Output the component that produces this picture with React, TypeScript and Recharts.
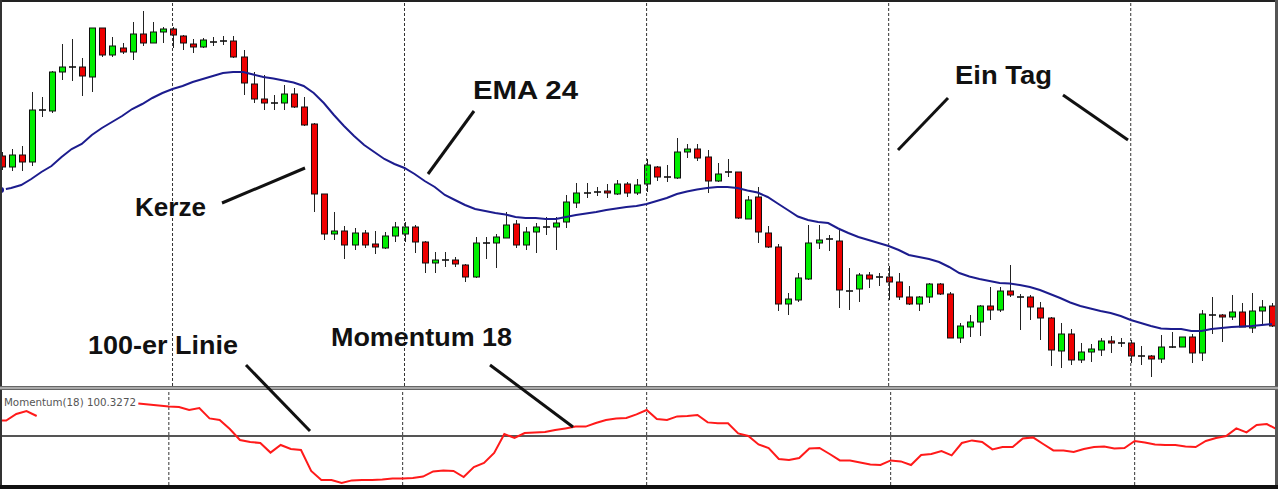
import { Bar, ComposedChart, Line, LineChart, ReferenceLine, XAxis, YAxis } from "recharts"

// hourly candles, price in points
const opens = [
  244, 233, 245, 238, 290, 289, 328, 333, 333, 323,
  372, 345, 352, 348, 366, 357, 368, 371, 364, 356,
  353, 358, 359, 359, 343, 316, 301, 297, 297, 306,
  293, 276, 206, 166, 169, 155, 167, 156, 152, 164,
  166, 173, 158, 137, 140, 140, 135, 123, 157, 157,
  162, 176, 155, 168, 173, 173, 178, 197, 207, 208,
  209, 206, 216, 207, 216, 233, 223, 222, 248, 251,
  243, 219, 228, 228, 181, 203, 167, 153, 96, 100,
  121, 157, 161, 159, 109, 111, 125, 123, 123, 118,
  103, 96, 103, 116, 106, 62, 73, 78, 94, 90,
  109, 103, 103, 92, 82, 49, 66, 40, 48, 50,
  59, 57, 57, 44, 44, 41, 53, 53, 63, 47,
  85, 85, 83, 88, 72, 89, 94,
]
const highs = [
  248, 251, 254, 308, 303, 329, 356, 361, 342, 372,
  372, 363, 357, 378, 389, 378, 373, 373, 365, 361,
  362, 363, 364, 364, 350, 328, 325, 305, 315, 312,
  303, 277, 206, 188, 174, 172, 170, 169, 168, 178,
  178, 175, 159, 148, 148, 143, 136, 163, 163, 166,
  188, 180, 173, 177, 183, 183, 205, 217, 217, 213,
  216, 220, 218, 221, 241, 234, 235, 262, 256, 256,
  250, 237, 241, 228, 204, 213, 174, 156, 107, 127,
  175, 175, 165, 170, 132, 127, 128, 127, 134, 127,
  114, 104, 117, 117, 108, 77, 85, 95, 113, 113,
  135, 106, 105, 98, 83, 77, 71, 57, 56, 62,
  64, 62, 60, 54, 45, 65, 68, 63, 66, 90,
  103, 86, 105, 97, 107, 100, 97,
]
const lows = [
  230, 229, 229, 234, 283, 287, 320, 319, 304, 308,
  343, 343, 346, 340, 354, 357, 357, 352, 350, 347,
  352, 354, 355, 342, 305, 297, 290, 290, 290, 292,
  274, 188, 160, 160, 141, 150, 152, 146, 151, 158,
  158, 147, 127, 127, 133, 133, 118, 122, 141, 132,
  162, 152, 150, 147, 165, 150, 172, 192, 202, 204,
  202, 205, 203, 205, 208, 219, 218, 221, 242, 239,
  207, 218, 223, 181, 181, 157, 152, 89, 85, 98,
  120, 151, 149, 92, 90, 98, 112, 114, 100, 100,
  95, 89, 97, 105, 62, 57, 63, 64, 80, 88,
  103, 70, 80, 60, 34, 32, 35, 37, 38, 44,
  47, 53, 37, 35, 23, 37, 52, 53, 37, 39,
  66, 58, 80, 73, 67, 75, 73,
]
const closes = [
  233, 245, 238, 290, 290, 328, 333, 333, 324, 372,
  345, 354, 348, 366, 357, 368, 371, 365, 357, 353,
  360, 358, 359, 343, 317, 301, 297, 297, 306, 293,
  275, 206, 166, 169, 155, 167, 155, 153, 164, 173,
  173, 158, 137, 140, 140, 136, 123, 157, 157, 163,
  175, 155, 168, 173, 173, 177, 198, 207, 207, 208,
  207, 216, 207, 215, 235, 223, 223, 248, 251, 242,
  219, 226, 228, 182, 200, 168, 153, 96, 101, 122,
  157, 160, 161, 110, 109, 125, 121, 123, 118, 103,
  96, 103, 116, 106, 62, 74, 78, 94, 90, 109,
  105, 103, 93, 82, 50, 66, 40, 48, 51, 59,
  57, 57, 44, 44, 41, 53, 53, 63, 47, 86,
  85, 83, 88, 73, 89, 93, 74,
]
const ema24 = [
  210, 212, 215, 221, 228, 234, 243, 251, 256, 265,
  272, 278, 284, 291, 296, 302, 307, 311, 314, 318,
  321, 324, 327, 328, 328, 325.5, 323, 321.5, 319.5, 317.5,
  314, 307, 297, 285, 274, 264, 255, 248, 241, 236,
  232, 226, 219, 213, 205, 200, 195, 191, 189, 187,
  185.5, 183, 182, 182, 181, 181, 183, 185, 186.5, 188,
  190, 191.5, 193, 194, 196, 199, 202, 206, 208.5, 210.5,
  212, 213, 213, 212, 209.5, 207.5, 203, 196.5, 190, 183.5,
  180, 178, 177, 171.5, 167, 163, 160, 157, 154, 150,
  145, 143, 141, 138, 133, 127, 123.5, 121, 119, 117,
  116.5, 115, 113, 110, 106, 102, 97.5, 94, 91.5, 89,
  87, 84, 80, 77, 74, 71.5, 71, 71, 69, 69,
  71, 72, 73, 73.5, 74, 75, 76,
]
const momentum18 = [
  100.77, 100.77, 101.1, 101.25, 101.0, null, null, null, null, null,
  null, null, null, null, 101.63, 101.58, 101.53, 101.47, 101.45, 101.3,
  101.4, 100.88, 100.8, 100.35, 99.8, 99.7, 99.65, 99.17, 99.55, 99.35,
  99.3, 98.25, 97.8, 97.8, 97.65, 97.78, 97.8, 97.8, 97.83, 97.88,
  97.88, 97.9, 97.97, 98.23, 98.27, 98.25, 97.95, 98.45, 98.65, 99.15,
  100.1, 99.9, 100.15, 100.18, 100.2, 100.3, 100.38, 100.47, 100.47, 100.65,
  100.8, 100.88, 100.9, 101.08, 101.3, 100.85, 100.8, 100.98, 101.0, 101.05,
  100.68, 100.64, 100.64, 100.13, 100.0, 99.58, 99.4, 98.85, 98.8, 98.9,
  99.38, 99.4, 99.1, 98.78, 98.77, 98.68, 98.58, 98.55, 98.78, 98.73,
  98.55, 99.05, 99.1, 99.25, 99.03, 99.65, 99.78, 99.7, 99.33, 99.45,
  99.45, 99.88, 99.93, 99.6, 99.28, 99.28, 99.2, 99.35, 99.45, 99.47,
  99.38, 99.4, 99.75, 99.68, 99.58, 99.55, 99.55, 99.48, 99.45, 99.75,
  99.9, 100.0, 100.38, 100.18, 100.55, 100.6, 100.3272,
]
// first candle of each day
const dayStarts = [17, 40, 64, 88, 112]

const rows = opens.map((open, i) => ({
  i,
  open,
  high: highs[i],
  low: lows[i],
  close: closes[i],
  range: [lows[i], highs[i]],
  ema: ema24[i],
  mom: momentum18[i],
}))

function Candle(props: any) {
  const { x, y, width, height, payload } = props
  if (x == null || y == null || !payload) return null
  const { open, close, high, low } = payload
  const top = Math.min(y, y + height)
  const h = Math.abs(height)
  const toY = (v: number) => top + ((high - v) / (high - low)) * h
  const cx = Math.round(x + width / 2)
  const bodyTop = toY(Math.max(open, close))
  const bodyBottom = toY(Math.min(open, close))
  return (
    <g>
      <line x1={cx + 0.5} x2={cx + 0.5} y1={top} y2={top + h} stroke="#222" strokeWidth={1} />
      {open === close ? (
        <line x1={cx - 3} x2={cx + 4} y1={bodyTop} y2={bodyTop} stroke="#111" strokeWidth={1.6} />
      ) : (
        <rect
          x={cx - 2.5}
          y={bodyTop}
          width={6}
          height={Math.max(bodyBottom - bodyTop, 1)}
          fill={close > open ? "#00ee00" : "#ee0000"}
          stroke="#111"
          strokeWidth={1}
        />
      )}
    </g>
  )
}

const labelFont = {
  fontFamily: "'Liberation Sans', Arial, sans-serif",
  fontWeight: 700,
  fontSize: 25,
  fill: "#111",
}

export default function App() {
  const last = momentum18[momentum18.length - 1] as number
  return (
    <div style={{ position: "relative", width: 1278, height: 489, overflow: "hidden", background: "#fff" }}>
      <style>{"body{margin:0}"}</style>
      <div style={{ position: "absolute", left: -4, top: 0 }}>
        <ComposedChart width={1281} height={386} data={rows} margin={{ top: 0, right: 0, bottom: 0, left: 0 }}>
          <XAxis dataKey="i" hide />
          <YAxis hide type="number" domain={[14, 400]} allowDataOverflow />
          {dayStarts.map((d) => (
            <ReferenceLine key={d} x={d} stroke="#333" strokeDasharray="3 2" />
          ))}
          <Bar dataKey="range" barSize={7} isAnimationActive={false} shape={(p: any) => <Candle {...p} />} />
          <Line dataKey="ema" stroke="#1c1c8e" strokeWidth={2} dot={false} isAnimationActive={false} />
        </ComposedChart>
      </div>
      <div style={{ position: "absolute", left: -4, top: 390 }}>
        <LineChart width={1281} height={95} data={rows} margin={{ top: 0, right: 0, bottom: 0, left: 0 }}>
          <XAxis dataKey="i" hide />
          <YAxis hide type="number" domain={[97.55, 102.3]} allowDataOverflow />
          {dayStarts.map((d) => (
            <ReferenceLine key={d} x={d} stroke="#333" strokeDasharray="3 2" />
          ))}
          <ReferenceLine y={100} stroke="#555" strokeWidth={2} />
          <Line dataKey="mom" stroke="#ff1a1a" strokeWidth={2} dot={false} isAnimationActive={false} />
        </LineChart>
      </div>
      <svg width={1278} height={489} style={{ position: "absolute", left: 0, top: 0, pointerEvents: "none" }}>
        {/* frame and pane separator */}
        <rect x={0} y={0} width={1278} height={2} fill="#222" />
        <rect x={0} y={0} width={2} height={489} fill="#333" />
        <rect x={1275} y={0} width={3} height={489} fill="#555" />
        <rect x={0} y={386} width={1278} height={4} fill="#aaa" />
        <rect x={0} y={386} width={1278} height={1} fill="#666" />
        <rect x={0} y={389} width={1278} height={1} fill="#666" />
        <rect x={0} y={485} width={1278} height={4} fill="#111" />

        <text x={4} y={406} fontFamily="'DejaVu Sans', Tahoma, sans-serif" fontSize={10} fill="#555" textLength={132} lengthAdjust="spacingAndGlyphs">
          {`Momentum(18) ${last.toFixed(4)}`}
        </text>

        <g stroke="#111" strokeWidth={3}>
          <line x1={222} y1={203} x2={305} y2={168} />
          <line x1={428} y1={174} x2={474} y2={111} />
          <line x1={898} y1={150} x2={948} y2={98} />
          <line x1={1063} y1={95} x2={1128} y2={140} />
          <line x1={246} y1={365} x2={310} y2={431} />
          <line x1={490} y1={365} x2={573} y2={427} />
        </g>
        <text x={135} y={216} {...labelFont} textLength={71} lengthAdjust="spacingAndGlyphs">Kerze</text>
        <text x={473} y={99} {...labelFont} textLength={105} lengthAdjust="spacingAndGlyphs">EMA 24</text>
        <text x={955} y={84} {...labelFont} textLength={97} lengthAdjust="spacingAndGlyphs">Ein Tag</text>
        <text x={88} y={354} {...labelFont} textLength={150} lengthAdjust="spacingAndGlyphs">100-er Linie</text>
        <text x={331} y={346} {...labelFont} textLength={181} lengthAdjust="spacingAndGlyphs">Momentum 18</text>
      </svg>
    </div>
  )
}
